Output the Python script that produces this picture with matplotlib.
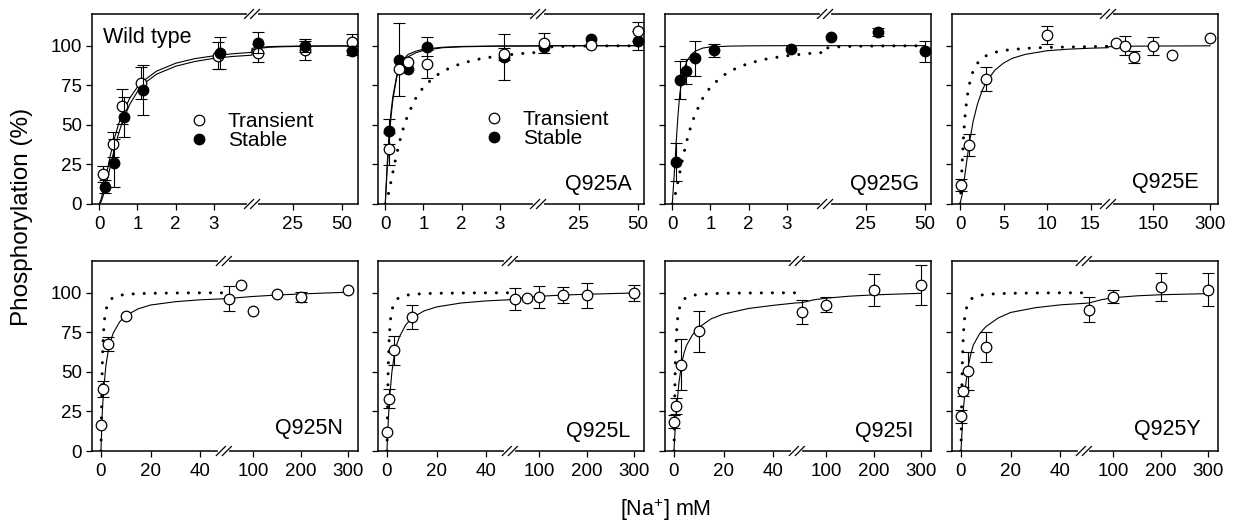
import numpy as np
import matplotlib
matplotlib.use('Agg')
import matplotlib.pyplot as plt
from matplotlib.lines import Line2D

plt.rcParams['font.family'] = ['Liberation Sans', 'DejaVu Sans']
plt.rcParams['mathtext.fontset'] = 'custom'
plt.rcParams['mathtext.rm'] = 'Liberation Sans'

# ---------------- values ----------------
# wild type fit (solid in WT panel, dotted reference in the mutant panels)
wt_fit_x = [0, 0.05, 0.1, 0.2, 0.3, 0.4, 0.5, 0.6, 0.8, 1.0, 1.25, 1.5, 2, 2.5, 3, 3.5, 4,
            5, 7.5, 10, 15, 20, 30, 40, 50]
wt_fit_y = [0, 3.1, 8.2, 20.2, 31.7, 41.7, 50, 56.8, 66.9, 73.9, 79.5, 83.9, 88.9, 91.8, 93.6, 94.9, 95.8,
            97.0, 98.3, 98.9, 99.4, 99.6, 99.8, 99.9, 99.9]
wt_st_fit_y = [0, 1.5, 5, 14, 25, 35, 44, 51.5, 63, 71, 77.5, 82, 87, 90, 92, 93.2, 94,
               95.5, 97.3, 98.2, 99, 99.3, 99.6, 99.7, 99.8]

# wild type points
wt_tr_x = [0.1, 0.35, 0.6, 1.1, 3.1, 10, 30, 50]
wt_tr_y = [19, 37.6, 61.6, 76.5, 93.6, 95.5, 97, 102.3]
wt_tr_err = [5, 8, 11, 10, 8.5, 5.5, 6, 5]
wt_st_x = [0.14, 0.39, 0.64, 1.15, 3.15, 10, 30, 50]
wt_st_y = [11, 26, 55, 71.7, 95.4, 102, 100, 96.8]
wt_st_err = [4, 15, 12.8, 15.8, 10, 6.5, 4, 3]

# Q925A
a_x = [0.1, 0.35, 0.6, 1.1, 3.1, 10, 30, 50]
a_tr_y = [34.8, 85.4, 90, 88.4, 94.7, 101.7, 100.2, 109]
a_tr_err = [10, 0, 0, 9, 4, 6.5, 0, 6]
a_st_y = [45.8, 91.1, 85.2, 99.2, 92.8, 99, 104.4, 103]
a_st_err = [8, 23, 0, 6, 14.5, 0, 0, 6]
a_fit_x = [0, 0.05, 0.1, 0.15, 0.2, 0.3, 0.4, 0.5, 0.6, 0.8, 1.0, 1.5, 2, 3, 4, 7.6, 50]
a_tr_fit_y = [0, 22, 40, 55, 66, 80, 87, 91, 93, 95.5, 97, 98.7, 99.3, 99.7, 99.8, 99.9, 100]
a_st_fit_y = [0, 25, 44, 58, 68, 81, 88, 92, 94.5, 96.5, 97.8, 99, 99.5, 99.8, 99.9, 100, 100]

# Q925G (stable only)
g_x = [0.1, 0.2, 0.35, 0.6, 1.1, 3.1, 10, 30, 50]
g_y = [26.8, 78.5, 83.7, 92, 97, 98, 105.5, 108.6, 96.4]
g_err = [12, 12, 8, 11, 4, 0, 0, 2.7, 6.7]
g_fit_x = [0, 0.05, 0.1, 0.15, 0.2, 0.3, 0.4, 0.5, 0.6, 0.8, 1.0, 1.5, 2, 3, 4, 7.6, 50]
g_fit_y = [0, 18, 38, 56, 70, 85, 91, 94.5, 96.5, 98.5, 99.2, 99.7, 99.9, 100, 100, 100, 100]

# Q925E
e_x = [0.1, 1, 3, 10, 50, 75, 100, 150, 200, 300]
e_y = [12, 37.3, 79, 107, 102, 100, 93, 99.6, 94, 105]
e_err = [4, 7, 7.7, 5.7, 0, 5.8, 3.8, 5.8, 0, 0]
e_fit_x = [0, 0.25, 0.5, 1, 1.5, 2, 2.5, 3, 4, 5, 6, 7.5, 10, 12.5, 15, 17, 30, 50, 100, 300]
e_fit_y = [0, 6, 16, 36, 52, 63, 71, 77, 84.5, 89, 92, 94.5, 96.8, 97.8, 98.4, 98.7, 99.3, 99.5, 99.7, 99.9]

# bottom row mutants
nl_x = [0, 1, 3, 10, 50, 75, 100, 150, 200, 300]
n_y = [16.5, 39, 67.6, 85.5, 96.3, 105, 88.3, 98.9, 97.2, 102]
n_err = [0, 5, 4.5, 0, 8, 0, 0, 0, 3, 0]
l_y = [12.3, 33, 63.6, 84.5, 96, 96.6, 97.3, 98.7, 98.3, 99.8]
l_err = [0, 6, 9, 7.5, 6.7, 0, 7, 5, 8, 5.2]
iy_x = [0, 1, 3, 10, 50, 100, 200, 300]
i_y = [18.6, 28.5, 54.5, 75.6, 87.7, 92.5, 101.6, 104.8]
i_err = [4, 5, 16, 13, 7.5, 4.5, 10, 12.7]
y_y = [21.8, 37.6, 50.7, 65.7, 89.3, 97.4, 103.5, 102]
y_err = [4, 3, 12, 9.5, 7.7, 4, 8.7, 10.5]

bot_fit_x = [0, 0.5, 1, 2, 3, 4, 5, 7.5, 10, 15, 20, 30, 40, 49, 50, 75, 100, 150, 200, 300]
n_fit_y = [0, 22.7, 37, 54, 63.8, 70, 74.6, 81.5, 85.5, 89.8, 92.2, 94.3, 95.5, 96.1, 96.3, 97, 97.6, 98.5, 99.2, 100.3]
l_fit_y = [0, 18, 32, 50, 61, 67.5, 72, 79.5, 84, 88.5, 91, 93.5, 94.8, 95.5, 96, 97, 97.7, 98.5, 99, 99.8]
i_fit_y = [0, 14, 26, 43, 54, 61.5, 66.5, 73.5, 78, 83.5, 86.5, 90, 92, 93.5, 93.7, 95.5, 96.5, 97.8, 98.6, 99.6]
y_fit_y = [0, 14, 27, 43, 54, 61.5, 67, 74, 78.5, 84, 87.5, 90.5, 92.3, 93.2, 93.5, 95.5, 96.8, 98, 98.7, 99.4]

top_ticks = [0, 1, 2, 3, 25, 50]
wt_ticks = [0, 1, 2, 3, 25, 45.9]
top_labels = ['0', '1', '2', '3', '25', '50']
e_ticks = [0, 5, 10, 15, 150, 300]
e_labels = ['0', '5', '10', '15', '150', '300']
bot_ticks = [0, 20, 40, 100, 200, 300]
bot_labels = ['0', '20', '40', '100', '200', '300']
y_ticks = [0, 25, 50, 75, 100]


def broken(b1, b2, k):
    # left part kept as is, right part squeezed after the break
    def fwd(x):
        x = np.asarray(x, float)
        return np.where(x <= b1, x, b1 + np.clip(x - b2, 0, None) * k)

    def inv(u):
        u = np.asarray(u, float)
        return np.where(u <= b1, u, b2 + (u - b1) / k)
    return fwd, inv


top_brk, top_lim = (4, 7.6, 0.0615), (-0.19, 52.7)
e_brk, e_lim = (17, 30, 0.04345), (-0.92, 321)
bot_brk, bot_lim = (49.5, 39, 0.1923), (-3.6, 320)

fig = plt.figure(figsize=(12.4, 5.27), dpi=100)
W, H = 1240, 527
col_left = [92, 378, 665, 952]
row_top = [14, 261]
aw, ah = 266, 190


def make_ax(r, c):
    return fig.add_axes([col_left[c] / W, 1 - (row_top[r] + ah) / H, aw / W, ah / H])


def points(ax, x, y, err, filled, z=4):
    x, y, err = np.array(x), np.array(y), np.array(err)
    m = err > 0
    ax.errorbar(x[m], y[m], yerr=err[m], fmt='none', ecolor='k', elinewidth=0.8,
                capsize=4.3, capthick=0.8, zorder=z - 1)
    ax.plot(x, y, 'o', ms=7.6, mec='k', mew=0.9, mfc='k' if filled else 'white', zorder=z)


def break_marks(ax, frac):
    for yy in (0, 1):
        ax.plot([frac - 3.5 / aw, frac + 3.5 / aw], [yy, yy], color='white', lw=3,
                transform=ax.transAxes, clip_on=False, zorder=6)
        for off in (-3, 3):
            ax.plot([frac + (off - 4.5) / aw, frac + (off + 4.5) / aw],
                    [yy - 4.5 / ah, yy + 4.5 / ah], color='k', lw=0.9,
                    transform=ax.transAxes, clip_on=False, zorder=7)


def setup(ax, brk, lim, ticks, labels, ylab):
    fwd, inv = broken(*brk)
    ax.set_xscale('function', functions=(fwd, inv))
    ax.set_xlim(lim)
    ax.set_ylim(0, 120)
    ax.set_xticks(ticks, labels)
    ax.set_yticks(y_ticks, [str(v) for v in y_ticks] if ylab else [])
    ax.tick_params(direction='out', length=4.3, width=0.9, labelsize=13.5)
    ax.tick_params(axis='x', pad=4.5)
    ax.tick_params(axis='y', pad=3)
    for s in ax.spines.values():
        s.set_linewidth(1.1)
    lo, hi = fwd(lim[0]), fwd(lim[1])
    break_marks(ax, float((fwd(brk[0]) - lo) / (hi - lo)))


def fit(ax, x, y, dotted=False):
    if dotted:
        ax.plot(x, y, color='k', lw=2.2, linestyle=(0, (0.01, 3.6)), dash_capstyle='round', zorder=2)
    else:
        ax.plot(x, y, color='k', lw=0.8, zorder=2)


def tag(ax, text, xf, yf, ha='right'):
    ax.text(xf, yf, text, transform=ax.transAxes, ha=ha, va='baseline', fontsize=15.5)


open_h = Line2D([], [], marker='o', ls='none', ms=7.6, mec='k', mew=0.9, mfc='white')
fill_h = Line2D([], [], marker='o', ls='none', ms=7.6, mec='k', mew=0.9, mfc='k')

# Wild type
ax = make_ax(0, 0)
setup(ax, top_brk, top_lim, wt_ticks, top_labels, True)
fit(ax, wt_fit_x, wt_fit_y)
fit(ax, wt_fit_x, wt_st_fit_y)
points(ax, wt_tr_x, wt_tr_y, wt_tr_err, False, 4)
points(ax, wt_st_x, wt_st_y, wt_st_err, True, 5)
tag(ax, 'Wild type', 0.041, 0.846, ha='left')
ax.legend([open_h, fill_h], ['Transient', 'Stable'], loc='upper left', bbox_to_anchor=(0.37, 0.485),
          frameon=False, handlelength=0.8, handletextpad=1.0, labelspacing=0.0, borderpad=0,
          borderaxespad=0, fontsize=15)

# Q925A
ax = make_ax(0, 1)
setup(ax, top_brk, top_lim, top_ticks, top_labels, False)
fit(ax, wt_fit_x, wt_fit_y, dotted=True)
fit(ax, a_fit_x, a_tr_fit_y)
fit(ax, a_fit_x, a_st_fit_y)
points(ax, a_x, a_st_y, a_st_err, True, 4)
points(ax, a_x, a_tr_y, a_tr_err, False, 5)
tag(ax, 'Q925A', 0.954, 0.074)
ax.legend([open_h, fill_h], ['Transient', 'Stable'], loc='upper left', bbox_to_anchor=(0.404, 0.495),
          frameon=False, handlelength=0.8, handletextpad=1.0, labelspacing=0.0, borderpad=0,
          borderaxespad=0, fontsize=15)

# Q925G
ax = make_ax(0, 2)
setup(ax, top_brk, top_lim, top_ticks, top_labels, False)
fit(ax, wt_fit_x, wt_fit_y, dotted=True)
fit(ax, g_fit_x, g_fit_y)
points(ax, g_x, g_y, g_err, True)
tag(ax, 'Q925G', 0.956, 0.074)

# Q925E
ax = make_ax(0, 3)
setup(ax, e_brk, e_lim, e_ticks, e_labels, False)
fit(ax, wt_fit_x, wt_fit_y, dotted=True)
fit(ax, e_fit_x, e_fit_y)
points(ax, e_x, e_y, e_err, False)
tag(ax, 'Q925E', 0.926, 0.083)

# bottom row
bottom = [('Q925N', nl_x, n_y, n_err, n_fit_y, 0.945, 0.088),
          ('Q925L', nl_x, l_y, l_err, l_fit_y, 0.947, 0.075),
          ('Q925I', iy_x, i_y, i_err, i_fit_y, 0.935, 0.075),
          ('Q925Y', iy_x, y_y, y_err, y_fit_y, 0.935, 0.084)]
for c, (name, px, py, pe, fy, tx, ty) in enumerate(bottom):
    ax = make_ax(1, c)
    setup(ax, bot_brk, bot_lim, bot_ticks, bot_labels, c == 0)
    fit(ax, wt_fit_x, wt_fit_y, dotted=True)
    fit(ax, bot_fit_x, fy)
    points(ax, px, py, pe, False)
    tag(ax, name, tx, ty)

fig.text(22 / W, 1 - 217 / H, 'Phosphorylation (%)', rotation=90, ha='center', va='center', fontsize=17.5)
fig.text(666 / W, 1 - 510 / H, '[Na$^{+}$] mM', ha='center', va='center', fontsize=15.5)

fig.savefig('out.png', dpi=100)
